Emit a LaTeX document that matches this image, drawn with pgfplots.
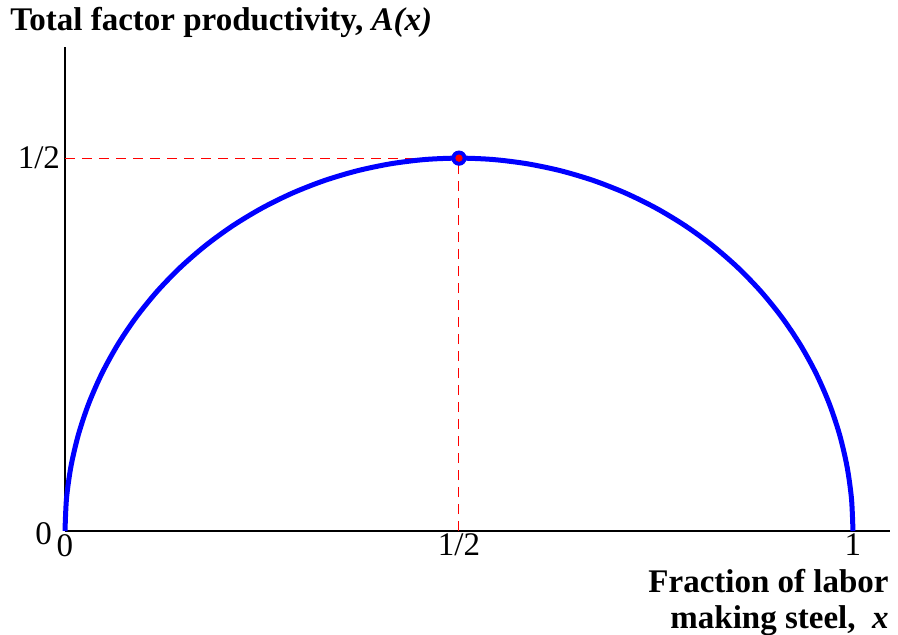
\documentclass[border=0pt]{standalone}
\usepackage{pgfplots}
\pgfplotsset{compat=1.18}
\usepackage{fontspec}
\setmainfont{Liberation Serif}
\begin{document}
\begin{tikzpicture}
\useasboundingbox (-32.5pt,-51.5pt) rectangle (416.5pt,265.5pt);
\begin{axis}[
  scale only axis, width=412.5pt, height=242pt,
  xmin=0, xmax=1.047, ymin=0, ymax=0.649,
  axis lines=left, axis line style={-, line width=0.75pt},
  xtick={0,0.5,1}, xticklabels={0,1/2,1},
  ytick={0.5}, yticklabels={1/2},
  extra y ticks={0}, extra y tick labels={0},
  extra y tick style={yticklabel style={xshift=-4pt, yshift=-1.5pt}},
  major tick length=0pt,
  tick label style={font=\fontsize{16.5}{18}\selectfont},
  xticklabel style={yshift=2pt},
  yticklabel style={xshift=1pt},
  clip=false,
]
\addplot[red, line width=0.5pt, dash pattern=on 5pt off 3.5pt] coordinates {(0,0.5) (0.5,0.5)};
\addplot[red, line width=0.5pt, dash pattern=on 5pt off 3.5pt] coordinates {(0.5,0) (0.5,0.5)};
\addplot[blue, line width=2.5pt, line join=round, smooth] coordinates {
(0,0) (0.001903,0.04358) (0.007596,0.08682) (0.017037,0.12941) (0.030154,0.17101)
(0.046846,0.21131) (0.066987,0.25) (0.090424,0.28679) (0.116978,0.32139)
(0.146447,0.35355) (0.178606,0.38302) (0.213212,0.40958) (0.25,0.43301)
(0.28869,0.45315) (0.32899,0.46985) (0.37059,0.48296) (0.413176,0.49240)
(0.45642,0.49810) (0.5,0.5) (0.54358,0.49810) (0.586824,0.49240)
(0.62941,0.48296) (0.67101,0.46985) (0.71131,0.45315) (0.75,0.43301)
(0.786788,0.40958) (0.821394,0.38302) (0.853553,0.35355) (0.883022,0.32139)
(0.909576,0.28679) (0.933013,0.25) (0.953154,0.21131) (0.969846,0.17101)
(0.982963,0.12941) (0.992404,0.08682) (0.998097,0.04358) (1,0)
};
\addplot[only marks, mark=*, mark size=3.6pt, blue] coordinates {(0.5,0.5)};
\addplot[only marks, mark=*, mark size=1.6pt, red] coordinates {(0.5,0.5)};
\end{axis}
\node[anchor=base west, font=\fontsize{16.5}{18}\selectfont\bfseries, inner sep=0pt] at (-27.5pt,250.5pt) {Total factor productivity, \textit{A(x)}};
\node[anchor=base east, font=\fontsize{16.5}{18}\selectfont\bfseries, inner sep=0pt] at (412pt,-30.5pt) {Fraction of labor};
\node[anchor=base east, font=\fontsize{16.5}{18}\selectfont\bfseries, inner sep=0pt] at (412pt,-48.5pt) {making steel,\enspace\textit{x}};
\end{tikzpicture}
\end{document}
